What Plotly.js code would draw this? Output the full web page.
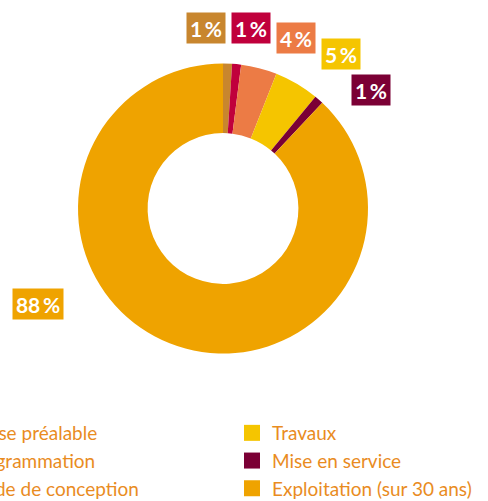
<!DOCTYPE html>
<html>
<head>
<meta charset="utf-8">
<script src="https://cdn.plot.ly/plotly-3.0.1.min.js"></script>
<style>html,body{margin:0;padding:0;background:#fff;}#chart{width:488px;height:501px;}</style>
</head>
<body>
<div id="chart"></div>
<script>
// Data
const categories = ["Phase préalable", "Programmation", "Étude de conception", "Travaux", "Mise en service", "Exploitation (sur 30 ans)"];
const shares = [1, 1, 4, 5, 1, 88];
const colors = ["#C8862E", "#C0003C", "#EC7B45", "#F5C500", "#7B0035", "#EFA300"];
const pctLabels = shares.map(v => v + "\u2009%");

// label box placement (paper px centres)
const labelPos = [[206, 28], [251, 28], [296, 38], [341, 54.5], [371, 90], [38, 303.5]];
const W = 488, H = 501;

const traces = [{
  type: "pie",
  labels: categories,
  values: shares,
  sort: false,
  direction: "clockwise",
  rotation: 0,
  hole: 0.52,
  marker: {colors: colors, line: {width: 0}},
  textinfo: "none",
  hoverinfo: "label+percent",
  showlegend: false,
  domain: {x: [78 / W, 368 / W], y: [1 - 353.5 / H, 1 - 63.5 / H]}
}];

categories.forEach((c, i) => {
  traces.push({
    type: "scatter", mode: "markers",
    x: [null], y: [null],
    name: c,
    legendgroup: "g" + i,
    legend: i < 3 ? "legend" : "legend2",
    marker: {symbol: "square", size: 16, color: colors[i]},
    showlegend: true,
    hoverinfo: "skip"
  });
});

const annotations = pctLabels.map((t, i) => ({
  xref: "paper", yref: "paper",
  x: labelPos[i][0] / W, y: 1 - labelPos[i][1] / H,
  xanchor: "center", yanchor: "middle",
  text: "<b>" + t + "</b>",
  showarrow: false,
  font: {family: "Lato, sans-serif", size: 21, color: "#ffffff"},
  bgcolor: colors[i],
  width: i === 5 ? 46 : 34,
  height: 26,
  borderpad: 2
}));

const legendFont = {family: "Lato, sans-serif", size: 19, color: "#E98C1F"};
const layout = {
  width: W, height: H,
  margin: {l: 0, r: 0, t: 0, b: 0, autoexpand: false},
  paper_bgcolor: "#ffffff",
  plot_bgcolor: "#ffffff",
  xaxis: {visible: false},
  yaxis: {visible: false},
  annotations: annotations,
  legend: {
    x: -73 / W, y: 1 - 414 / H, xanchor: "left", yanchor: "top",
    orientation: "v", font: legendFont, tracegroupgap: 0,
    bgcolor: "rgba(0,0,0,0)", itemsizing: "trace"
  },
  legend2: {
    x: 232 / W, y: 1 - 414 / H, xanchor: "left", yanchor: "top",
    orientation: "v", font: legendFont, tracegroupgap: 0,
    bgcolor: "rgba(0,0,0,0)", itemsizing: "trace"
  },
  showlegend: true
};

Plotly.newPlot("chart", traces, layout, {displayModeBar: false, staticPlot: true});
</script>
</body>
</html>
